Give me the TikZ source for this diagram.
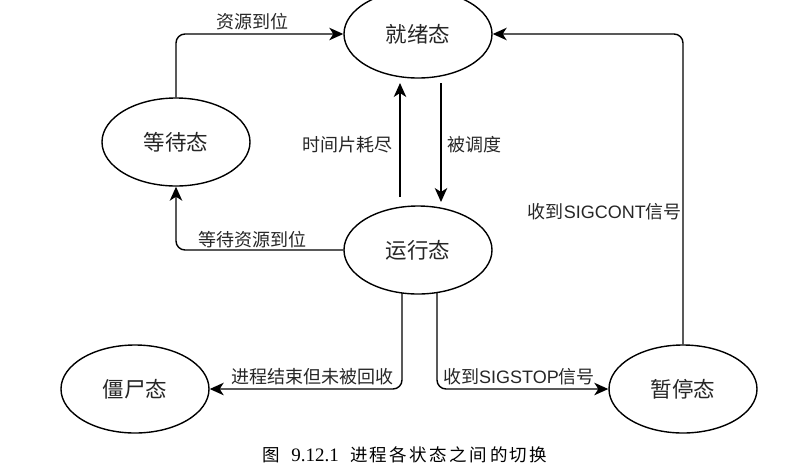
\documentclass[tikz,border=0pt]{standalone}
\usepackage{fontspec}
\setmainfont{Noto Sans CJK SC}
\newfontfamily\latinsans{Liberation Sans}
\newfontfamily\capserif{Liberation Serif}
\usetikzlibrary{arrows.meta,calc,shapes.geometric}
\pgfdeclarelayer{bg}
\pgfsetlayers{bg,main}
% one CJK character of the caption on a fixed pitch
\newcommand\capglyph[1]{\makebox[20pt]{#1}}

\begin{document}
\begin{tikzpicture}[x=1pt,y=-1pt,
  state/.style={ellipse, draw, line width=1.4pt, fill=white,
    minimum width=148pt, minimum height=88pt, inner sep=0pt,
    font=\fontsize{21.5}{25}\selectfont, text=black!85},
  lbl/.style={font=\fontsize{18}{21}\selectfont, text=black!85, inner sep=0pt},
  flow/.style={line width=1.4pt, rounded corners=9pt,
    -{Stealth[length=14pt,width=12.5pt,inset=4pt]}}]

\useasboundingbox (0,0) rectangle (803,472);

% states
\node[state] (ready)  at (418,34)  {就绪态};
\node[state] (wait)   at (176,142) {等待态};
\node[state] (run)    at (418,250) {运行态};
\node[state] (zombie) at (135,389) {僵尸态};
\node[state] (pause)  at (683,389) {暂停态};

% free ends of the two vertical arrows between ready and running
\coordinate (upS) at (400,197);
\coordinate (upE) at (400,83);
\coordinate (dnS) at (441,83);
\coordinate (dnE) at (441,202);

% transitions (behind the white-filled states)
\begin{pgfonlayer}{bg}
\draw[flow] (wait.north) |- (ready.west);
\draw[flow] (upS) -- (upE);
\draw[flow] (dnS) -- (dnE);
\draw[flow] (run.west) -| (wait.south);
\draw[flow] ($(run.center)+(-16,0)$) |- (zombie.east);
\draw[flow] ($(run.center)+(19,0)$) |- (pause.west);
\draw[flow] (pause.north) |- (ready.east);
\end{pgfonlayer}

% transition labels
\node[lbl] (lres) at (252,22) {资源到位};
\node[lbl, anchor=east] (lslice) at (393,145) {时间片耗尽};
\node[lbl, anchor=west] (lsched) at (447,145) {被调度};
\node[lbl] (lwait) at (252,240) {等待资源到位};
\node[lbl] (lexit) at (312,377) {进程结束但未被回收};
\node[lbl] (lstop) at (519,377) {收到{\latinsans SIGSTOP}信号};
\node[lbl, anchor=east] (lcont) at (682,212) {收到{\latinsans SIGCONT}信号};

% caption
\node[inner sep=0pt, font=\fontsize{17.5}{20}\selectfont] (caption) at (405,455)
  {\capglyph{图}\hspace{10pt}{\capserif\fontsize{19}{20}\selectfont 9.12.1}\hspace{10pt}%
   \capglyph{进}\capglyph{程}\capglyph{各}\capglyph{状}\capglyph{态}%
   \capglyph{之}\capglyph{间}\capglyph{的}\capglyph{切}\capglyph{换}};
\end{tikzpicture}
\end{document}
